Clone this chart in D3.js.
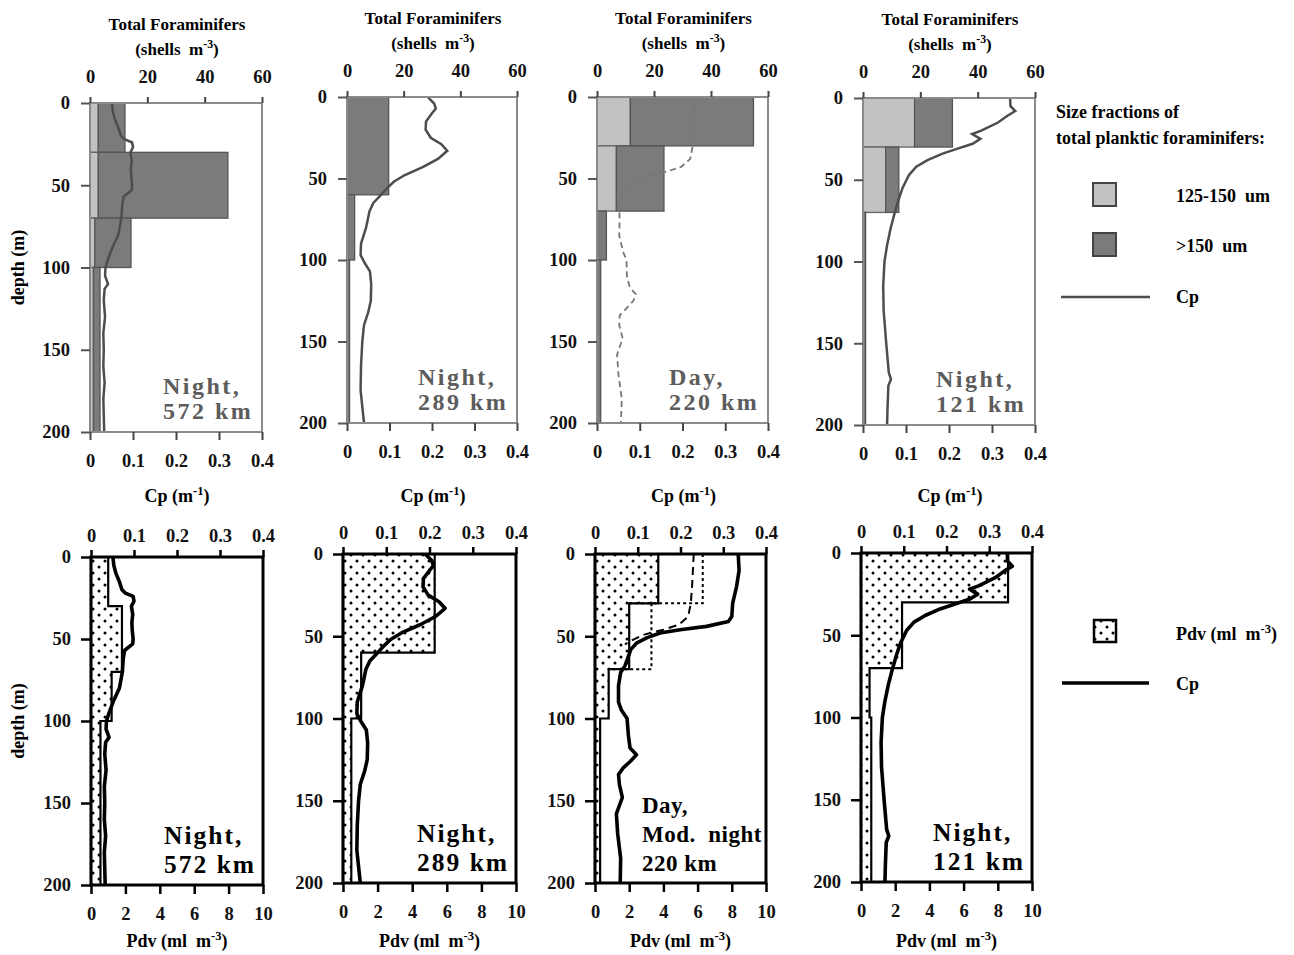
<!DOCTYPE html>
<html>
<head>
<meta charset="utf-8">
<script src="https://cdn.jsdelivr.net/npm/d3@7"></script>
<style>
  body { margin: 0; background: #fff; }
  svg { font-family: "Liberation Serif", "Times New Roman", serif; font-weight: bold; }
</style>
</head>
<body>
<script>
"use strict";

// ---- data ----
const topNotes = [["Night,", "572 km"], ["Night,", "289 km"], ["Day,", "220 km"], ["Night,", "121 km"]];
const bottomNotes = [["Night,", "572 km"], ["Night,", "289 km"], ["Day,", "Mod.  night", "220 km"], ["Night,", "121 km"]];

const foramTicks = [0, 20, 40, 60];
const cpTicks = [0, 0.1, 0.2, 0.3, 0.4];
const pdvTicks = [0, 2, 4, 6, 8, 10];
const depthTicks = [0, 50, 100, 150, 200];

// foraminifer net intervals (depth edges) and shells m-3 per size fraction
const foramEdges = [[0, 30, 70, 100, 200], [0, 60, 100, 200], [0, 30, 70, 100, 200], [0, 30, 70, 200]];
const foramSmall = [[2.9, 2.9, 1.7, 1.2], [0, 0, 0], [11.7, 6.8, 0, 0], [18, 7.9, 0]];
const foramLarge = [[9.3, 45.2, 12.6, 2.3], [14.7, 2.7, 0.9], [43.2, 16.7, 3.3, 1.3], [13.2, 4.6, 0.9]];

// plankton displacement volume (ml m-3)
const pdvEdges = [[0, 30, 70, 100, 200], [0, 60, 100, 200], [0, 30, 70, 100, 200], [0, 30, 70, 100, 200]];
const pdvValues = [[1.0, 1.8, 1.2, 0.55], [5.3, 1.05, 0.48], [3.7, 2.0, 0.8, 0.3], [8.6, 2.4, 0.5, 0.6]];
const pdvNight220 = [6.3, 3.3];   // modelled night, 0-30 and 30-70 m

// beam attenuation Cp (m-1): [depth, cp]
const cp572 = [[0, 0.051], [5, 0.053], [10, 0.058], [15, 0.066], [20, 0.072], [22, 0.08], [24, 0.098], [27, 0.1], [30, 0.094], [35, 0.097], [40, 0.095], [45, 0.096], [50, 0.098], [53, 0.097], [57, 0.078], [62, 0.075], [70, 0.073], [80, 0.066], [88, 0.052], [95, 0.042], [100, 0.036], [105, 0.035], [110, 0.042], [113, 0.034], [120, 0.032], [130, 0.035], [140, 0.031], [150, 0.032], [160, 0.031], [170, 0.034], [180, 0.031], [190, 0.032], [200, 0.033]];
const cp289 = [[0, 0.19], [4, 0.205], [7, 0.209], [10, 0.2], [15, 0.186], [20, 0.185], [25, 0.197], [29, 0.222], [33, 0.236], [38, 0.214], [43, 0.178], [48, 0.135], [52, 0.11], [56, 0.094], [60, 0.08], [65, 0.062], [70, 0.053], [80, 0.045], [90, 0.033], [97, 0.032], [102, 0.042], [107, 0.054], [115, 0.057], [125, 0.056], [132, 0.05], [140, 0.04], [150, 0.036], [165, 0.033], [180, 0.032], [190, 0.036], [200, 0.04]];
const cp220Day = [[0, 0.231], [10, 0.229], [20, 0.227], [30, 0.224], [38, 0.218], [43, 0.196], [46, 0.16], [49, 0.115], [52, 0.09], [55, 0.07], [60, 0.057], [67, 0.052], [75, 0.053], [85, 0.052], [95, 0.061], [100, 0.069], [110, 0.07], [117, 0.077], [121, 0.091], [125, 0.085], [130, 0.068], [134, 0.053], [140, 0.052], [148, 0.06], [158, 0.047], [170, 0.05], [185, 0.058], [200, 0.056]];
const cp220Night = [[0, 0.335], [10, 0.337], [20, 0.331], [30, 0.322], [38, 0.32], [41, 0.312], [44, 0.261], [46, 0.199], [48, 0.152], [51, 0.121], [54, 0.098], [58, 0.084], [63, 0.077], [68, 0.07], [72, 0.06], [80, 0.055], [90, 0.055], [95, 0.062], [100, 0.075], [110, 0.078], [118, 0.082], [122, 0.097], [126, 0.083], [130, 0.066], [134, 0.055], [140, 0.057], [148, 0.064], [158, 0.05], [170, 0.053], [185, 0.06], [200, 0.059]];
const cp121 = [[0, 0.342], [5, 0.343], [8, 0.354], [11, 0.335], [15, 0.314], [20, 0.275], [22, 0.254], [25, 0.273], [28, 0.255], [31, 0.22], [34, 0.185], [38, 0.15], [42, 0.124], [47, 0.107], [55, 0.092], [62, 0.083], [70, 0.074], [80, 0.064], [90, 0.056], [100, 0.05], [115, 0.047], [130, 0.048], [150, 0.054], [168, 0.06], [172, 0.065], [176, 0.059], [190, 0.057], [200, 0.056]];

const topCp = [cp572, cp289, cp220Day, cp121];
const bottomCp = [cp572, cp289, cp220Night, cp121];

// ---- layout: [left, right, top, bottom] of each panel frame ----
const topBoxes = [[90, 262, 103, 432], [347, 517, 97, 423], [597, 768, 97, 423], [863, 1035, 98, 425]];
const botBoxes = [[91, 263, 557, 885], [343, 516, 554, 883], [595, 766, 554, 883], [861, 1032, 553, 882]];

const lightFill = "#c2c2c2";
const darkFill = "#7b7b7b";
const grayLine = "#4d4d4d";
const tickFont = 18.5;

const svg = d3.select("body").append("svg")
    .attr("width", 1294)
    .attr("height", 955);

// stipple pattern for Pdv
svg.append("defs").append("pattern")
    .attr("id", "stipple")
    .attr("patternUnits", "userSpaceOnUse")
    .attr("width", 12).attr("height", 12)
    .selectAll("circle")
    .data([[3, 3], [9, 9]])
    .enter().append("circle")
    .attr("cx", d => d[0]).attr("cy", d => d[1])
    .attr("r", 1.5).attr("fill", "#000");

// superscript text like "m-3"
function supText(sel, before, sup, after) {
    sel.style("white-space", "pre");
    sel.append("tspan").text(before);
    sel.append("tspan").attr("dy", -7).attr("font-size", "0.7em").text(sup);
    sel.append("tspan").attr("dy", 7).text(after);
}

function styleAxis(g, color, width) {
    g.select(".domain").remove();
    g.selectAll(".tick line").attr("stroke", color).attr("stroke-width", width);
    g.selectAll(".tick text")
        .attr("fill", "#111")
        .attr("font-size", tickFont)
        .attr("font-family", "Liberation Serif, serif")
        .attr("font-weight", "bold");
}

function stepPath(x, y, edges, values) {
    const p = d3.path();
    p.moveTo(x(0), y(edges[0]));
    values.forEach((v, i) => {
        p.lineTo(x(v), y(edges[i]));
        p.lineTo(x(v), y(edges[i + 1]));
    });
    p.lineTo(x(0), y(edges[edges.length - 1]));
    p.closePath();
    return p.toString();
}

// ---- top row: foraminifers + Cp ----
topBoxes.forEach((b, i) => {
    const [l, r, t, bt] = b;
    const x = d3.scaleLinear().domain([0, 60]).range([l, r]);
    const xc = d3.scaleLinear().domain([0, 0.4]).range([l, r]);
    const y = d3.scaleLinear().domain([0, 200]).range([t, bt]);
    const g = svg.append("g");

    const edges = foramEdges[i];
    foramSmall[i].forEach((s, k) => {
        const lg = foramLarge[i][k];
        if (s > 0) {
            g.append("rect")
                .attr("x", x(0)).attr("y", y(edges[k]))
                .attr("width", x(s) - x(0)).attr("height", y(edges[k + 1]) - y(edges[k]))
                .attr("fill", lightFill).attr("stroke", "#666").attr("stroke-width", 1.3);
        }
        g.append("rect")
            .attr("x", x(s)).attr("y", y(edges[k]))
            .attr("width", x(s + lg) - x(s)).attr("height", y(edges[k + 1]) - y(edges[k]))
            .attr("fill", darkFill).attr("stroke", "#555").attr("stroke-width", 1.3);
    });

    const line = d3.line().x(d => xc(d[1])).y(d => y(d[0]));
    g.append("path")
        .datum(topCp[i])
        .attr("d", line)
        .attr("fill", "none")
        .attr("stroke", i === 2 ? "#777" : grayLine)
        .attr("stroke-width", i === 2 ? 1.8 : 2.5)
        .attr("stroke-dasharray", i === 2 ? "6,4" : null);

    g.append("rect")
        .attr("x", l).attr("y", t).attr("width", r - l).attr("height", bt - t)
        .attr("fill", "none").attr("stroke", "#8a8a8a").attr("stroke-width", 2);

    svg.append("g").attr("transform", `translate(0,${t})`)
        .call(d3.axisTop(x).tickValues(foramTicks).tickSize(6).tickPadding(14).tickFormat(d => d))
        .call(a => styleAxis(a, "#444", 2));
    svg.append("g").attr("transform", `translate(0,${bt})`)
        .call(d3.axisBottom(xc).tickValues(cpTicks).tickSize(8).tickPadding(14).tickFormat(d => d))
        .call(a => styleAxis(a, "#444", 2));
    svg.append("g").attr("transform", `translate(${l},0)`)
        .call(d3.axisLeft(y).tickValues(depthTicks).tickSize(9).tickPadding(11).tickFormat(d => d))
        .call(a => styleAxis(a, "#555", 2));

    // titles
    const cx = (l + r) / 2 + 1;
    svg.append("text").attr("x", cx).attr("y", t - 73).attr("text-anchor", "middle")
        .attr("font-size", 17).text("Total Foraminifers");
    svg.append("text").attr("x", cx).attr("y", t - 48).attr("text-anchor", "middle")
        .attr("font-size", 17).call(s => supText(s, "(shells  m", "-3", ")"));
    svg.append("text").attr("x", cx).attr("y", 502).attr("text-anchor", "middle")
        .attr("font-size", 18).call(s => supText(s, "Cp (m", "-1", ")"));

    const notes = topNotes[i];
    notes.forEach((n, k) => {
        svg.append("text")
            .attr("x", r - 99)
            .attr("y", bt - 13 - (notes.length - 1 - k) * 25)
            .attr("font-size", 24).attr("letter-spacing", 2.5)
            .attr("fill", "#5c5c5c")
            .style("white-space", "pre")
            .text(n);
    });
});

// ---- bottom row: Pdv + Cp ----
botBoxes.forEach((b, i) => {
    const [l, r, t, bt] = b;
    const xp = d3.scaleLinear().domain([0, 10]).range([l, r]);
    const xc = d3.scaleLinear().domain([0, 0.4]).range([l, r]);
    const y = d3.scaleLinear().domain([0, 200]).range([t, bt]);
    const g = svg.append("g");

    g.append("path")
        .attr("d", stepPath(xp, y, pdvEdges[i], pdvValues[i]))
        .attr("fill", "url(#stipple)")
        .attr("stroke", "#000").attr("stroke-width", 2.2);

    const line = d3.line().x(d => xc(d[1])).y(d => y(d[0]));

    if (i === 2) {
        // modelled night Pdv (dotted outline)
        const d = d3.path();
        d.moveTo(xp(pdvNight220[0]), y(0));
        d.lineTo(xp(pdvNight220[0]), y(30));
        d.lineTo(xp(pdvValues[2][1]), y(30));
        d.moveTo(xp(pdvNight220[1]), y(30));
        d.lineTo(xp(pdvNight220[1]), y(70));
        d.lineTo(xp(pdvValues[2][2]), y(70));
        g.append("path").attr("d", d.toString())
            .attr("fill", "none").attr("stroke", "#000")
            .attr("stroke-width", 2).attr("stroke-dasharray", "3,3");

        // day Cp (dashed) where it departs from the night profile
        g.append("path")
            .datum(cp220Day.filter(p => p[0] <= 56))
            .attr("d", line)
            .attr("fill", "none").attr("stroke", "#000")
            .attr("stroke-width", 2).attr("stroke-dasharray", "8,5");
    }

    g.append("path")
        .datum(bottomCp[i])
        .attr("d", line)
        .attr("fill", "none")
        .attr("stroke", "#000")
        .attr("stroke-width", 3.6)
        .attr("stroke-linejoin", "round");

    g.append("rect")
        .attr("x", l).attr("y", t).attr("width", r - l).attr("height", bt - t)
        .attr("fill", "none").attr("stroke", "#000").attr("stroke-width", 3);

    svg.append("g").attr("transform", `translate(0,${t})`)
        .call(d3.axisTop(xc).tickValues(cpTicks).tickSize(7).tickPadding(8).tickFormat(d => d))
        .call(a => styleAxis(a, "#000", 2.5));
    svg.append("g").attr("transform", `translate(0,${bt})`)
        .call(d3.axisBottom(xp).tickValues(pdvTicks).tickSize(9).tickPadding(13).tickFormat(d => d))
        .call(a => styleAxis(a, "#000", 2.5));
    svg.append("g").attr("transform", `translate(${l},0)`)
        .call(d3.axisLeft(y).tickValues(depthTicks).tickSize(10).tickPadding(10).tickFormat(d => d))
        .call(a => styleAxis(a, "#000", 2.5));

    svg.append("text").attr("x", (l + r) / 2).attr("y", 947).attr("text-anchor", "middle")
        .attr("font-size", 18).call(s => supText(s, "Pdv (ml  m", "-3", ")"));

    const notes = bottomNotes[i];
    const many = notes.length > 2;
    notes.forEach((n, k) => {
        svg.append("text")
            .attr("x", many ? r - 124 : r - 99)
            .attr("y", bt - 12 - (notes.length - 1 - k) * 29)
            .attr("font-size", many ? 23 : 25.5)
            .attr("letter-spacing", many ? 0.5 : 2)
            .attr("fill", "#000")
            .style("white-space", "pre")
            .text(n);
    });
});

// depth labels
[topBoxes[0], botBoxes[0]].forEach(b => {
    const cy = (b[2] + b[3]) / 2;
    svg.append("text")
        .attr("transform", `translate(24,${cy}) rotate(-90)`)
        .attr("text-anchor", "middle")
        .attr("font-size", 18)
        .text("depth (m)");
});

// ---- legends ----
const legTop = svg.append("g").attr("font-size", 18);
legTop.append("text").attr("x", 1056).attr("y", 118).text("Size fractions of");
legTop.append("text").attr("x", 1056).attr("y", 144).text("total planktic foraminifers:");
[[lightFill, 183, "125-150  um"], [darkFill, 233, ">150  um"]].forEach(d => {
    legTop.append("rect").attr("x", 1093).attr("y", d[1]).attr("width", 23).attr("height", 23)
        .attr("fill", d[0]).attr("stroke", "#444").attr("stroke-width", 2);
    legTop.append("text").attr("x", 1176).attr("y", d[1] + 19).style("white-space", "pre").text(d[2]);
});
legTop.append("line").attr("x1", 1061).attr("x2", 1150).attr("y1", 297).attr("y2", 297)
    .attr("stroke", grayLine).attr("stroke-width", 2.5);
legTop.append("text").attr("x", 1176).attr("y", 303).text("Cp");

const legBot = svg.append("g").attr("font-size", 18);
legBot.append("rect").attr("x", 1094).attr("y", 620).attr("width", 22).attr("height", 22)
    .attr("fill", "url(#stipple)").attr("stroke", "#000").attr("stroke-width", 2.5);
legBot.append("text").attr("x", 1176).attr("y", 640).call(s => supText(s, "Pdv (ml  m", "-3", ")"));
legBot.append("line").attr("x1", 1062).attr("x2", 1149).attr("y1", 683).attr("y2", 683)
    .attr("stroke", "#000").attr("stroke-width", 3.6);
legBot.append("text").attr("x", 1176).attr("y", 690).text("Cp");
</script>
</body>
</html>
